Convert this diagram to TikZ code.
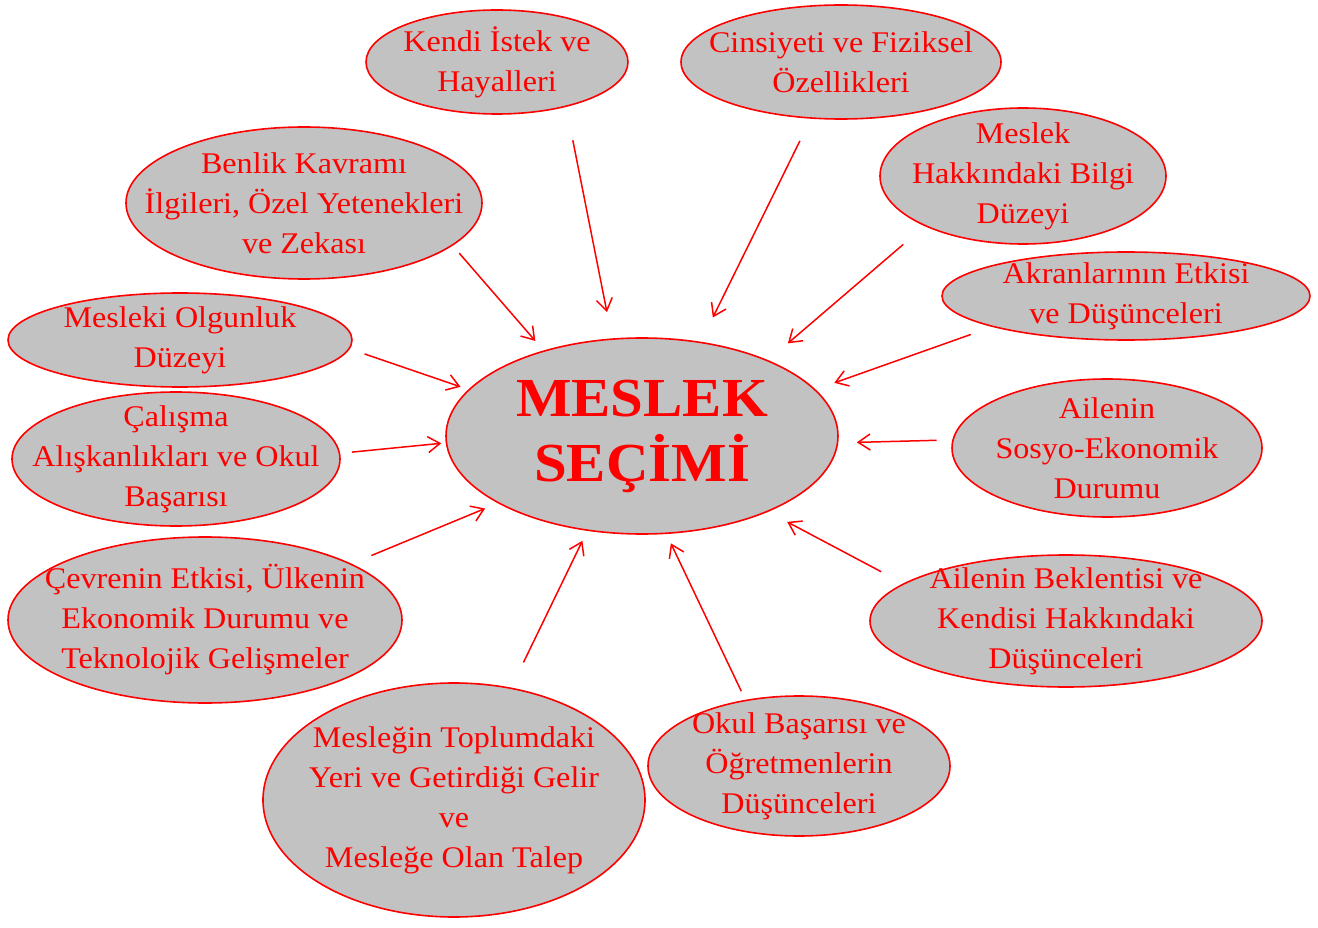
\documentclass[tikz,border=0pt]{standalone}
\usepackage{fontspec}
\setmainfont{Liberation Serif}[FakeStretch=1.07]
\usetikzlibrary{shapes.geometric,arrows.meta}
\definecolor{bubblegray}{RGB}{194,194,194}

\begin{document}
\begin{tikzpicture}[x=1pt,y=-1pt,->,>={Straight Barb[length=12pt,width=16pt]},line width=1.5pt,red,
  bubble/.style={ellipse,draw=red,fill=bubblegray,line width=1.6pt,inner xsep=-200pt,inner ysep=-120pt,align=center,text=red,font=\fontsize{30}{40}\selectfont},
  title node/.style={bubble,font=\fontsize{55}{65}\selectfont\bfseries}]
  \useasboundingbox (0,0) rectangle (1318,928);

  \node[title node,minimum width=392,minimum height=196] (secim) at (642,436) {MESLEK\\SEÇİMİ};

  \node[bubble,minimum width=262,minimum height=104] (kendi) at (497,62) {Kendi İstek ve\\Hayalleri};
  \node[bubble,minimum width=320,minimum height=114] (cinsiyet) at (841,62) {Cinsiyeti ve Fiziksel\\Özellikleri};
  \node[bubble,minimum width=286,minimum height=136] (bilgi) at (1023,176) {Meslek\\Hakkındaki Bilgi\\Düzeyi};
  \node[bubble,minimum width=368,minimum height=88] (akran) at (1126,296) {Akranlarının Etkisi\\ve Düşünceleri};
  \node[bubble,minimum width=310,minimum height=138] (sosyo) at (1107,448) {Ailenin\\Sosyo-Ekonomik\\Durumu};
  \node[bubble,minimum width=392,minimum height=132] (beklenti) at (1066,621) {Ailenin Beklentisi ve\\Kendisi Hakkındaki\\Düşünceleri};
  \node[bubble,minimum width=302,minimum height=140] (okul) at (799,766) {Okul Başarısı ve\\Öğretmenlerin\\Düşünceleri};
  \node[bubble,minimum width=382,minimum height=234] (talep) at (454,800) {Mesleğin Toplumdaki\\Yeri ve Getirdiği Gelir\\ve\\Mesleğe Olan Talep};
  \node[bubble,minimum width=394,minimum height=166] (cevre) at (205,620) {Çevrenin Etkisi, Ülkenin\\Ekonomik Durumu ve\\Teknolojik Gelişmeler};
  \node[bubble,minimum width=328,minimum height=134] (calisma) at (176,459) {Çalışma\\Alışkanlıkları ve Okul\\Başarısı};
  \node[bubble,minimum width=344,minimum height=94] (olgunluk) at (180,340) {Mesleki Olgunluk\\Düzeyi};
  \node[bubble,minimum width=356,minimum height=152] (benlik) at (304,203) {Benlik Kavramı\\İlgileri, Özel Yetenekleri\\ve Zekası};

\path
  (kendi.-33.7) edge[shorten <=34pt,shorten >=26.7pt] (secim.107)
  (cinsiyet.-118.2) edge[shorten <=24.6pt,shorten >=27pt] (secim.58.8)
  (bilgi.-153.9) edge[shorten <=28pt,shorten >=25.9pt] (secim.31.7)
  (akran.-167.8) edge[shorten <=22.7pt,shorten >=19.8pt] (secim.15.9)
  (sosyo.177.8) edge[shorten <=15.6pt,shorten >=18.5pt] (secim.-2.05)
  (beklenti.167.6) edge[shorten <=25pt,shorten >=21.5pt] (secim.-31.4)
  (okul.129.6) edge[shorten <=9.5pt,shorten >=10.3pt] (secim.-76.9)
  (talep.63) edge[shorten <=28pt,shorten >=11pt] (secim.-120.4)
  (cevre.21.5) edge[shorten <=21.5pt,shorten >=13.7pt] (secim.-155.7)
  (calisma.2) edge[shorten <=11.8pt,shorten >=4.4pt] (secim.-178.1)
  (olgunluk.-3.3) edge[shorten <=15.6pt,shorten >=8.3pt] (secim.165.8)
  (benlik.-16.1) edge[shorten <=9.9pt,shorten >=12.6pt] (secim.139.8)
;
\end{tikzpicture}
\end{document}
